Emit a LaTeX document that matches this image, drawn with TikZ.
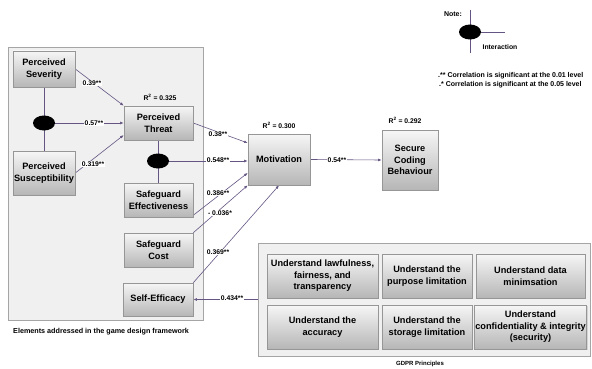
\documentclass[tikz,border=0pt]{standalone}
\usepackage{fontspec}
\setmainfont{Liberation Sans}
\usetikzlibrary{arrows.meta,shapes.geometric,shadows,calc}
\pgfdeclarelayer{panel}
\pgfdeclarelayer{wires}
\pgfsetlayers{panel,wires,main}
\definecolor{wirec}{RGB}{100,85,130}
\definecolor{boxtop}{RGB}{246,246,246}
\definecolor{boxbot}{RGB}{182,182,182}
\definecolor{boxline}{RGB}{150,150,150}
\definecolor{panelfill}{RGB}{240,240,240}
\definecolor{panelline}{RGB}{165,165,165}
\tikzset{
  box/.style={draw=boxline, line width=0.6pt, top color=boxtop, bottom color=boxbot,
    align=center, font=\fontsize{9.2}{11.5}\selectfont\bfseries, inner sep=1pt,
    drop shadow={shadow xshift=1pt,shadow yshift=-1pt,opacity=0.25}},
  panelbox/.style={draw=panelline, fill=panelfill, line width=0.6pt, inner sep=0pt},
  blob/.style={ellipse, fill=black, minimum width=22pt, minimum height=15pt, inner sep=0pt},
  wire/.style={draw=wirec, line width=0.6pt},
  arr/.style={wire, -{Latex[length=3.6pt,width=2.8pt]}},
  coef/.style={font=\fontsize{6.8}{7}\selectfont\bfseries, fill=white, inner sep=0.5pt},
  rsq/.style={font=\fontsize{6.8}{8}\selectfont\bfseries},
  captext/.style={font=\fontsize{7.2}{8}\selectfont\bfseries},
  notetext/.style={font=\fontsize{7}{8}\selectfont\bfseries}
}
\begin{document}
\begin{tikzpicture}[x=1pt,y=-1pt]
\useasboundingbox (0,0) rectangle (592,369);

% panels
\begin{pgfonlayer}{panel}
\node[panelbox, minimum width=195pt, minimum height=273pt] (leftpanel) at (105.5,183.5) {};
\node[panelbox, minimum width=332pt, minimum height=113pt] (gdprpanel) at (424,299.5) {};
\end{pgfonlayer}

% construct boxes
\node[box, minimum width=62pt, minimum height=36pt] (sev) at (44,69) {Perceived\\Severity};
\node[box, minimum width=62pt, minimum height=44pt] (sus) at (44,173) {Perceived\\Susceptibility};
\node[box, minimum width=69pt, minimum height=34pt] (threat) at (158.5,123) {Perceived\\Threat};
\node[box, minimum width=69pt, minimum height=34pt] (eff) at (158.5,200) {Safeguard\\Effectiveness};
\node[box, minimum width=69pt, minimum height=34pt] (cost) at (158.5,250) {Safeguard\\Cost};
\node[box, minimum width=70pt, minimum height=33pt] (self) at (158,299.5) {Self-Efficacy};
\node[box, minimum width=62pt, minimum height=51pt] (mot) at (279,159.5) {Motivation};
\node[box, minimum width=56pt, minimum height=60pt] (scb) at (410,160) {Secure\\Coding\\Behaviour};

% GDPR boxes
\node[box, minimum width=111pt, minimum height=44pt] (g1) at (322.5,276) {Understand lawfulness,\\fairness, and\\transparency};
\node[box, minimum width=90pt, minimum height=44pt] (g2) at (427,276) {Understand the\\purpose limitation};
\node[box, minimum width=109pt, minimum height=44pt] (g3) at (530.5,276) {Understand data\\minimsation};
\node[box, minimum width=111pt, minimum height=44pt] (g4) at (322.5,327) {Understand the\\accuracy};
\node[box, minimum width=90pt, minimum height=44pt] (g5) at (427,327) {Understand the\\storage limitation};
\node[box, minimum width=109pt, minimum height=44pt] (g6) at (530.5,327) {Understand\\confidentiality \& integrity\\(security)};

% interaction blobs
\node[blob] (e1) at (44,123) {};
\node[blob] (e2) at (158,161) {};
\node[blob] (leg) at (470,32) {};
\coordinate (legtop) at (470,10);
\coordinate (legbot) at (470,53);
\coordinate (legright) at (505,32);

% connectors
\begin{pgfonlayer}{wires}
\draw[wire] (sev.south) -- (sus.north);
\draw[wire] (threat.south) -- (eff.north);
\draw[wire] (legtop) -- (legbot);
\draw[wire] (leg.center) -- (legright);
\draw[arr] (sev.east) -- (threat.north west);
\draw[arr] (e1.center) -- (threat.west);
\draw[arr] (sus.east) -- ($(threat.north west)!0.85!(threat.south west)$);
\draw[arr] (threat.east) -- ($(mot.north west)!0.18!(mot.south west)$);
\draw[arr] (e2.center) -- (e2.center -| mot.west);
\draw[arr] ($(eff.north east)!0.94!(eff.south east)$) -- ($(mot.north west)!0.76!(mot.south west)$);
\draw[arr] (cost.north east) -- (mot.south west);
\draw[arr] (self.north east) -- (mot.south);
\draw[arr] (mot.east) -- (scb.west);
\draw[arr] (self.east -| gdprpanel.west) -- (self.east);
\end{pgfonlayer}

% coefficients
\node[coef] (c1) at (92,83) {0.39**};
\node[coef] (c2) at (94,123) {0.57**};
\node[coef] (c3) at (93,164) {0.319**};
\node[coef] (c4) at (218,134) {0.38**};
\node[coef] (c5) at (218,160) {0.548**};
\node[coef] (c6) at (218,193) {0.386**};
\node[coef] (c7) at (220,213) {- 0.036*};
\node[coef] (c8) at (218,252) {0.369**};
\node[coef] (c9) at (337,160) {0.54**};
\node[coef] (c10) at (232,298) {0.434**};

% R squared
\node[rsq] (r1) at (160,97) {R\textsuperscript{2} = 0.325};
\node[rsq] (r2) at (279,125) {R\textsuperscript{2} = 0.300};
\node[rsq] (r3) at (405,120) {R\textsuperscript{2} = 0.292};

% captions and notes
\node[captext, anchor=west, inner sep=0pt] (capl) at (13,332) {Elements addressed in the game design framework};
\node[captext, inner sep=0pt, font=\fontsize{6}{7}\selectfont\bfseries] (capg) at (420,364) {GDPR Principles};
\node[notetext, inner sep=0pt, font=\fontsize{7}{8}\selectfont\bfseries] (note) at (453,14) {Note:};
\node[notetext, inner sep=0pt, font=\fontsize{6.8}{8}\selectfont\bfseries] (inter) at (500,47) {Interaction};
\node[notetext, anchor=west, inner sep=0pt] (n1) at (438,76) {.** Correlation is significant at the 0.01 level};
\node[notetext, anchor=west, inner sep=0pt] (n2) at (439,85) {.* Correlation is significant at the 0.05 level};
\end{tikzpicture}
\end{document}
